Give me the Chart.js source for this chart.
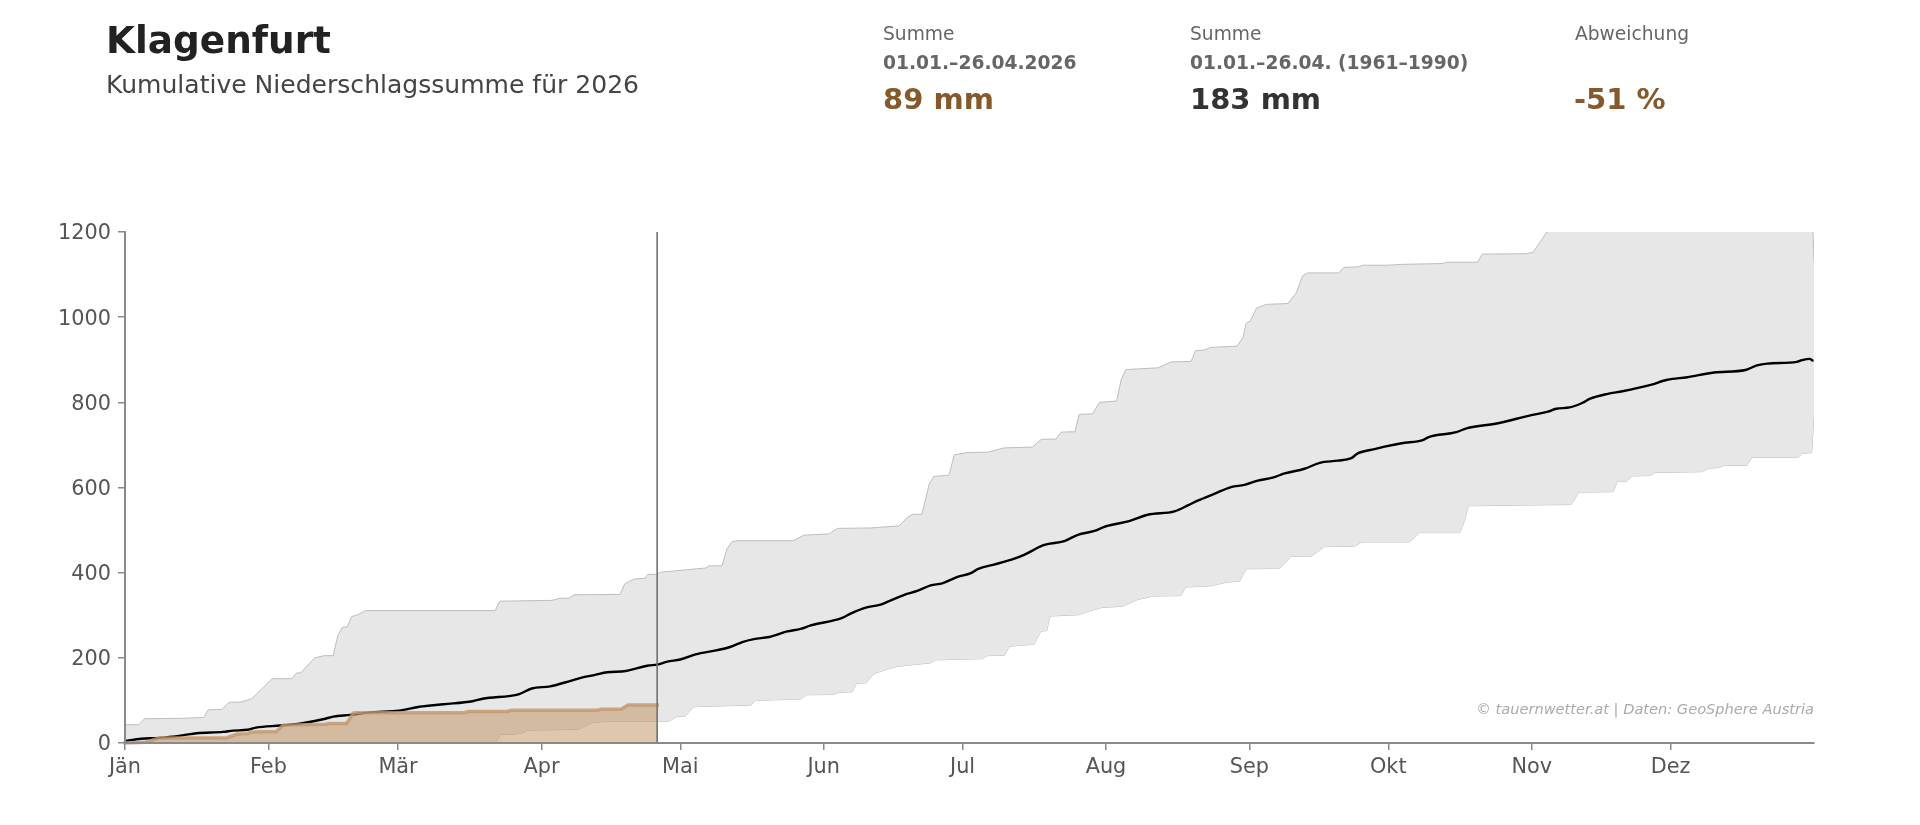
<!DOCTYPE html>
<html lang="de">
<head>
<meta charset="utf-8">
<title>Klagenfurt - Kumulative Niederschlagssumme</title>
<script src="https://cdn.jsdelivr.net/npm/chart.js@4"></script>
<style>
    html, body { margin: 0; padding: 0; background: #fff; }
    body { width: 1920px; height: 825px; overflow: hidden; position: relative; font-family: "DejaVu Sans", sans-serif; }
    #chart { position: absolute; left: 0; top: 0; width: 1920px; height: 825px; }
    .txt { position: absolute; line-height: 1; white-space: nowrap; }
    .label { font-size: 18.67px; color: #666; top: 25px; }
    .range { font-size: 18.67px; font-weight: bold; color: #666; top: 54px; }
    .big { font-size: 29px; font-weight: bold; top: 85px; }
    .brown { color: #85592b; }
    .dark { color: #333; }
</style>
</head>
<body>
<canvas id="chart" width="1920" height="825"></canvas>
<div class="txt" style="left:106px;top:22px;font-size:37.4px;font-weight:bold;color:#222">Klagenfurt</div>
<div class="txt" style="left:106px;top:72px;font-size:25.05px;color:#444">Kumulative Niederschlagssumme für 2026</div>
<div class="txt label" style="left:883px">Summe</div>
<div class="txt range" style="left:883px">01.01.–26.04.2026</div>
<div class="txt big brown" style="left:883px">89 mm</div>
<div class="txt label" style="left:1190px">Summe</div>
<div class="txt range" style="left:1190px">01.01.–26.04. (1961–1990)</div>
<div class="txt big dark" style="left:1190px">183 mm</div>
<div class="txt label" style="left:1575px">Abweichung</div>
<div class="txt big brown" style="left:1574px">-51 %</div>
<div class="txt" style="right:106px;top:702px;font-size:14.6px;font-style:italic;color:#aaa">© tauernwetter.at | Daten: GeoSphere Austria</div>

<script>
// Month axis, day of year counted from 1 January = 0
const monthStarts = [0, 31, 59, 90, 120, 151, 181, 212, 243, 273, 304, 334];
const monthLabels = ['Jän', 'Feb', 'Mär', 'Apr', 'Mai', 'Jun', 'Jul', 'Aug', 'Sep', 'Okt', 'Nov', 'Dez'];
const daysInYear = 365;
const todayDay = 115;
const yMax = 1200;

// Highest sums per day (1961-1990). Above 1200 it is clipped.
const upperDays = [0, 3, 4.2, 12.4, 17, 18, 21, 22.3, 23, 25, 27.4, 31.8, 36, 37, 38, 41, 43, 45, 46, 47, 48, 49, 50, 52, 80, 81, 92.3, 94, 96, 97, 107, 108, 110, 112.4, 113, 115, 115.7, 125.5, 126.2, 129, 130.1, 131.2, 132.3, 144.4, 146.7, 152.1, 154, 161.2, 167.3, 169.1, 170.2, 172.2, 173.8, 174.8, 178.1, 179.2, 182, 186.4, 190, 196.1, 198, 201.2, 202.3, 205.3, 206.2, 209.1, 210.6, 214.3, 215.3, 216.3, 223.2, 226.1, 230.4, 231.3, 233.3, 234.7, 240.3, 241.6, 242.3, 243.2, 244.5, 246.6, 251.3, 253.1, 254.5, 255.6, 262.3, 263.4, 266.4, 267.5, 273, 275.9, 284.9, 285.4, 292.3, 293.3, 302.6, 304.3, 305.7, 307.3, 308.2, 325, 345, 364.6, 365];
const upperValues = [43, 43, 57, 58, 60, 78, 79, 94, 96, 96, 104, 151, 151, 164, 165, 200, 205, 205, 253, 272, 273, 297, 300, 311, 311, 333, 335, 340, 340, 348, 349, 374, 385, 387, 396, 396, 401, 411, 416, 416, 456, 473, 475, 475, 488, 491, 504, 505, 510, 530, 537, 537, 608, 626, 629, 677, 682, 683, 693, 695, 713, 714, 730, 731, 772, 773, 800, 803, 854, 877, 881, 895, 896, 921, 923, 929, 932, 952, 986, 991, 1021, 1030, 1032, 1057, 1097, 1104, 1104, 1117, 1118, 1122, 1122, 1124, 1126, 1129, 1129, 1148, 1149, 1152, 1175, 1200, 1204, 1220, 1240, 1260, 1133];

// Lowest sums per day (1961-1990)
const lowerDays = [0, 40, 80, 81.3, 83.9, 86, 87, 98, 101, 104.2, 117.5, 119.3, 121.1, 122.9, 135.2, 136.3, 146, 147.3, 153.2, 154.3, 157.2, 158.1, 160.1, 161.9, 164, 166.9, 174.1, 175.2, 185.3, 186.4, 190.1, 191.1, 196.5, 197.9, 199.2, 199.9, 206, 208.5, 211, 215.6, 218.9, 222.3, 228.2, 229.2, 234.7, 237.8, 240.9, 242.3, 249.5, 252, 256.4, 259.2, 265.7, 267.3, 277.6, 279.8, 288.5, 289.5, 290.3, 312.5, 314.2, 321.6, 322.5, 324.4, 325.7, 329.6, 330.6, 340.7, 342.2, 344.7, 345.6, 350.5, 351.6, 361.6, 362.4, 364.5, 365];
const lowerValues = [0, 0, 1, 20, 20, 24, 30, 32, 48, 51, 51, 62, 63, 85, 89, 100, 103, 113, 114, 119, 120, 140, 141, 163, 171, 180, 188, 195, 198, 205, 206, 227, 232, 262, 264, 298, 301, 310, 318, 321, 337, 345, 346, 366, 369, 377, 380, 409, 410, 438, 439, 461, 462, 472, 472, 494, 494, 523, 557, 560, 589, 590, 614, 614, 627, 628, 635, 637, 645, 647, 652, 652, 671, 671, 680, 682, 772];

// Mean of the 1961-1990 reference period
const meanDays = [0, 3.5, 7.5, 12.4, 15.5, 21.2, 23.4, 26.5, 28.3, 33.6, 38, 43.3, 45, 48.6, 53, 59.2, 63.6, 68.9, 75.1, 77.3, 85.2, 87.9, 91.9, 96.3, 98.5, 101.6, 104.2, 108.2, 113.1, 115, 117.2, 120, 123.3, 128, 130.9, 133.4, 135.9, 139.2, 143.1, 146, 148.2, 155, 156.8, 160.1, 163.3, 165.5, 168.4, 171.2, 174.1, 176.6, 179.9, 182.8, 184.4, 187.8, 192.2, 194.3, 198.7, 203, 205.9, 209.5, 212, 217, 221, 226.8, 229.7, 231.8, 235.4, 239, 241.9, 244.8, 248, 250.6, 254.9, 258.2, 262.1, 265, 266.4, 270, 272.2, 275.9, 280.6, 281.6, 287.7, 289.9, 296.7, 303.9, 307.5, 309.3, 312.2, 315, 316.5, 320.4, 323.6, 329.7, 333.3, 337.6, 343.4, 350.2, 352.7, 354.9, 361.3, 362.4, 364, 364.9];
const meanValues = [5, 10, 12, 18, 23, 26, 29, 31, 36, 41, 46, 57, 62, 66, 72, 76, 85, 91, 98, 104, 115, 128, 133, 146, 153, 160, 166, 169, 182, 184, 191, 196, 208, 218, 226, 237, 244, 249, 262, 268, 276, 294, 304, 318, 325, 335, 348, 357, 370, 375, 390, 399, 409, 419, 433, 442, 465, 474, 489, 498, 509, 521, 536, 544, 558, 569, 585, 601, 606, 616, 623, 633, 644, 658, 663, 669, 680, 690, 696, 704, 712, 718, 730, 739, 751, 770, 778, 785, 788, 799, 808, 820, 826, 841, 853, 859, 870, 876, 887, 891, 895, 899, 902, 897];

// Sum of the current year up to today
const currentDays = [0, 4.4, 7.5, 22, 24.3, 26.5, 27.4, 32.7, 34.2, 43.3, 44.2, 47.9, 49.3, 50, 73.3, 74.2, 82.6, 83.5, 102, 102.9, 107.3, 108.7, 115];
const currentValues = [0, 2, 12, 12.5, 21, 22, 26, 27, 42, 44, 46, 46, 70, 71, 71, 74, 74, 77, 77, 79, 80, 89, 89];

function toPoints(days, values) {
    return days.map((day, i) => ({ x: day, y: values[i] }));
}

const axisColor = '#8a8a8a';
const tickFont = { family: '"DejaVu Sans"', size: 20.8 };

// The y labels sit slightly below their ticks in the original
const shiftYLabels = {
    id: 'shiftYLabels',
    beforeDraw(chart) {
        chart.scales.y.getLabelItems().forEach(item => {
            if (!item.shifted) {
                item.options.translation[1] += 2;
                item.shifted = true;
            }
        });
    }
};

new Chart(document.getElementById('chart').getContext('2d'), {
    type: 'line',
    plugins: [shiftYLabels],
    data: {
        datasets: [
            {
                // Today marker
                data: toPoints([todayDay, todayDay], [0, yMax]),
                borderColor: '#707070',
                borderWidth: 1.6,
                pointRadius: 0,
                order: 0,
                clip: 0
            },
            {
                data: toPoints(currentDays, currentValues),
                borderColor: 'rgba(194,150,108,0.8)',
                backgroundColor: 'rgba(191,144,93,0.5)',
                borderWidth: 3.5,
                borderCapStyle: 'square',
                pointRadius: 0,
                fill: 'origin',
                order: 1,
                clip: false
            },
            {
                data: toPoints(meanDays, meanValues),
                borderColor: '#000',
                borderWidth: 2.4,
                cubicInterpolationMode: 'monotone',
                pointRadius: 0,
                fill: false,
                order: 2,
                clip: 0
            },
            {
                data: toPoints(upperDays, upperValues),
                borderColor: '#bdbdbd',
                backgroundColor: '#e7e7e7',
                borderWidth: 1,
                pointRadius: 0,
                fill: '+1',
                order: 3,
                clip: 0
            },
            {
                data: toPoints(lowerDays, lowerValues),
                borderColor: '#bdbdbd',
                borderWidth: 1,
                pointRadius: 0,
                fill: false,
                order: 3,
                clip: 0
            }
        ]
    },
    options: {
        responsive: false,
        animation: false,
        events: [],
        layout: { padding: { top: 232, right: 106, left: 0, bottom: 0 } },
        plugins: { legend: { display: false }, tooltip: { enabled: false } },
        scales: {
            x: {
                type: 'linear',
                min: 0,
                max: daysInYear,
                afterBuildTicks: scale => {
                    scale.ticks = monthStarts.map(day => ({ value: day }));
                },
                afterFit: scale => { scale.height = 82; },
                border: { color: axisColor, width: 2, z: 2 },
                grid: { drawOnChartArea: false, color: axisColor, lineWidth: 1.5, tickLength: 7, z: 2 },
                ticks: {
                    autoSkip: false,
                    maxRotation: 0,
                    color: '#555',
                    font: tickFont,
                    padding: 5,
                    callback: value => monthLabels[monthStarts.indexOf(value)]
                }
            },
            y: {
                min: 0,
                max: yMax,
                afterFit: scale => { scale.width = 125; },
                border: { color: axisColor, width: 2, z: 2 },
                grid: { drawOnChartArea: false, color: axisColor, lineWidth: 1.5, tickLength: 7, z: 2 },
                ticks: { stepSize: 200, color: '#555', font: tickFont, padding: 7, callback: value => String(value) }
            }
        }
    }
});
</script>
</body>
</html>
